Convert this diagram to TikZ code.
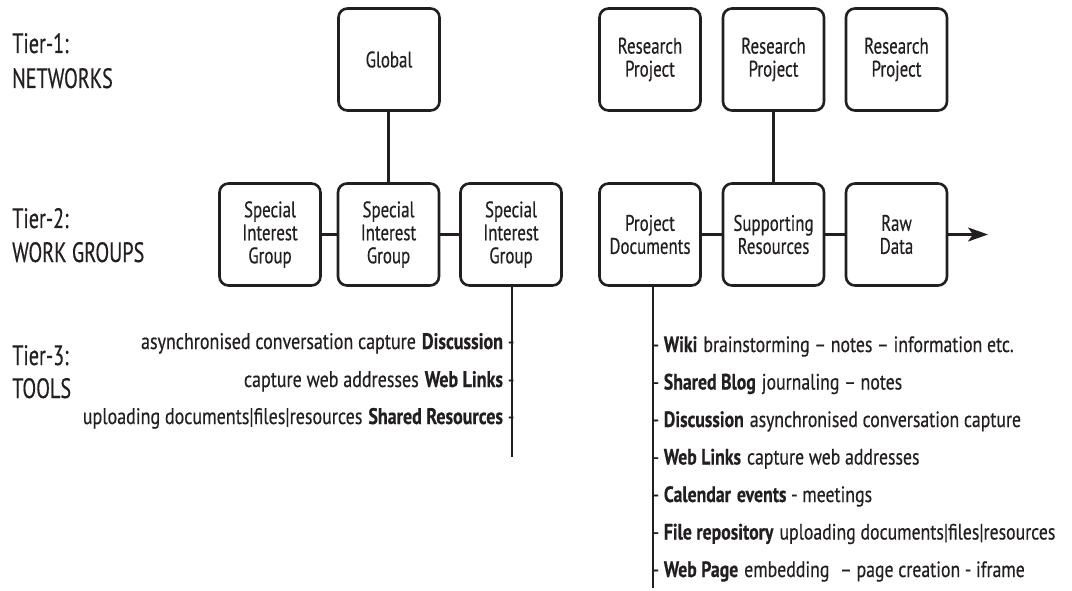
\documentclass[tikz,border=0pt]{standalone}
\usepackage{fontspec}
\setmainfont[FakeStretch=0.8,FakeBold=0.4]{PT Sans}
\newfontfamily\boxfont[FakeStretch=0.75,FakeBold=0.4]{PT Sans}
\newfontfamily\tierfont[FakeStretch=0.72,FakeBold=0.4]{PT Sans}
\usetikzlibrary{arrows.meta,calc}
\definecolor{ink}{RGB}{35,31,32}
\begin{document}
\begin{tikzpicture}[x=1pt,y=-1pt,
  box/.style={draw=ink, line width=2.6pt, rounded corners=9pt, minimum width=101pt, minimum height=102pt, align=center, text=ink, font=\boxfont\fontsize{22.5}{23}\selectfont, inner sep=0pt},
  conn/.style={draw=ink, line width=2.6pt},
  tier/.style={anchor=base west, text=ink, font=\tierfont\fontsize{28}{34}\selectfont, inner sep=0pt},
  litem/.style={anchor=base east, text=ink, font=\fontsize{22.5}{24}\selectfont, inner sep=0pt},
  ritem/.style={anchor=base west, text=ink, font=\fontsize{22.2}{24}\selectfont, inner sep=0pt}]
\useasboundingbox (0,0) rectangle (1072,591);
% tier labels
\node[tier] (t1a) at (12,53) {Tier-1:};
\node[tier] (t1b) at (12,88) {NETWORKS};
\node[tier] (t2a) at (12,228) {Tier-2:};
\node[tier] (t2b) at (12,262) {WORK GROUPS};
\node[tier] (t3a) at (12,365) {Tier-3:};
\node[tier] (t3b) at (12,398) {TOOLS};
% tier 1
\node[box] (glob) at (389,59.5) {Global};
\node[box] (rp1) at (650,59.5) {Research\\Project};
\node[box] (rp2) at (773.5,59.5) {Research\\Project};
\node[box] (rp3) at (896.5,59.5) {Research\\Project};
% tier 2
\node[box] (sig1) at (270,234.5) {Special\\Interest\\Group};
\node[box] (sig2) at (388.5,234.5) {Special\\Interest\\Group};
\node[box] (sig3) at (511,234.5) {Special\\Interest\\Group};
\node[box] (pd) at (650,234.5) {Project\\Documents};
\node[box] (sr) at (773.5,234.5) {Supporting\\Resources};
\node[box] (rd) at (896.5,234.5) {Raw\\Data};
% connectors
\draw[conn] (glob.south -| sig2) -- (sig2.north);
\draw[conn] (rp2.south) -- (sr.north);
\draw[conn] (sig1.east) -- (sig2.west);
\draw[conn] (sig2.east) -- (sig3.west);
\draw[conn] (pd.east) -- (sr.west);
\draw[conn] (sr.east) -- (rd.west);
\coordinate (arr) at (988,234.5);
\draw[conn,-{Stealth[length=20pt,width=14pt,inset=5pt]}] (rd.east) -- (arr);
\coordinate (lend) at (512,457);
\draw[conn] (sig3.south -| lend) -- (lend);
\coordinate (rend) at (653,588);
\draw[conn] (pd.south -| rend) -- (rend);
% left tools
\node[litem] (l1) at (514.5,349) {asynchronised conversation capture\hspace{6pt}\textbf{Discussion} -};
\node[litem] (l2) at (514.5,387) {capture web addresses\hspace{6pt}\textbf{Web Links} -};
\node[litem] (l3) at (514.5,424) {uploading documents|files|resources\hspace{6pt}\textbf{Shared Resources} -};
% right tools
\node[ritem] (r1) at (652.5,352) {- \textbf{Wiki}\hspace{6pt}brainstorming – notes – information etc.};
\node[ritem] (r2) at (652.5,389.5) {- \textbf{Shared Blog}\hspace{6pt}journaling – notes};
\node[ritem] (r3) at (652.5,427) {- \textbf{Discussion}\hspace{6pt}asynchronised conversation capture};
\node[ritem] (r4) at (652.5,464.5) {- \textbf{Web Links}\hspace{6pt}capture web addresses};
\node[ritem] (r5) at (652.5,502) {- \textbf{Calendar\hspace{6pt}events} - meetings};
\node[ritem] (r6) at (652.5,539.5) {- \textbf{File repository}\hspace{6pt}uploading documents|files|resources};
\node[ritem] (r7) at (652.5,577) {- \textbf{Web Page}\hspace{6pt}embedding\hspace{6pt} – page creation - iframe};
\end{tikzpicture}
\end{document}
